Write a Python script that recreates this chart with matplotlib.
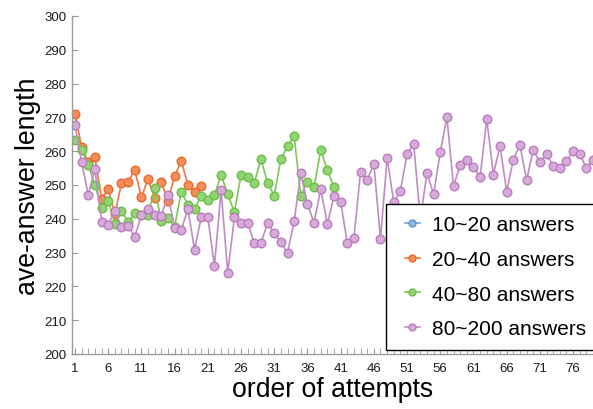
import matplotlib.pyplot as plt
from matplotlib.legend_handler import HandlerLine2D

plt.rcParams['font.family'] = ['Liberation Sans', 'DejaVu Sans']

# average answer length per attempt, one list per group size
len_10_20 = []
len_20_40 = [271.0, 261.2, 256.8, 258.2, 245.9, 248.8, 241.4, 250.5, 251.0, 254.4,
             246.4, 251.8, 246.2, 250.8, 245.4, 252.6, 257.2, 250.0, 248.0, 249.6]
len_40_80 = [263.3, 260.3, 255.9, 250.0, 243.2, 245.3, 238.6, 242.3, 239.0, 241.6,
             241.1, 241.1, 249.0, 239.4, 240.1, 237.7, 248.0, 244.2, 242.8, 246.8,
             245.5, 247.0, 253.0, 247.3, 241.9, 253.0, 252.5, 250.6, 257.7, 250.6,
             246.8, 257.7, 261.4, 264.4, 246.8, 251.0, 249.3, 260.4, 254.4, 249.3]
len_80_200 = [267.8, 256.7, 247.1, 254.7, 239.2, 238.2, 242.4, 237.7, 238.0, 234.7,
              241.1, 242.9, 241.1, 240.8, 247.1, 237.2, 236.7, 242.9, 230.9, 240.4,
              240.4, 226.1, 248.5, 224.0, 240.4, 238.9, 238.9, 232.7, 232.7, 238.8,
              235.7, 233.2, 229.9, 239.3, 253.5, 244.4, 238.8, 248.8, 238.5, 246.7,
              245.1, 232.8, 234.3, 253.9, 251.4, 256.3, 234.0, 258.0, 244.9, 248.3,
              259.2, 262.1, 239.9, 253.6, 247.3, 259.7, 270.0, 249.6, 256.0, 257.4,
              255.4, 252.3, 269.5, 253.1, 261.6, 248.0, 257.5, 261.8, 251.5, 260.4,
              256.7, 259.2, 255.7, 254.9, 257.0, 260.1, 259.2, 255.0, 257.5]

labels = ['10~20 answers', '20~40 answers', '40~80 answers', '80~200 answers']
# (line, marker face, marker edge)
colors = [('#6FA3D6', '#8DBBE6', '#5A93CC'),
          ('#EE7742', '#F58E58', '#EA6A2E'),
          ('#7CC858', '#92D474', '#6CBF45'),
          ('#C08AC4', '#D8AADB', '#B77DBB')]

fig = plt.figure(figsize=(5.93, 4.10), dpi=100)
ax = fig.add_axes([72/593, 55/410, 521/593, 338/410])

for ys, lab, (lc, fc, ec) in zip([len_10_20, len_20_40, len_40_80, len_80_200], labels, colors):
    xs = list(range(1, len(ys) + 1))
    ax.plot(xs, ys, '-o', color=lc, lw=1.2, ms=6.2, mfc=fc, mec=ec, mew=1.0, label=lab)

ax.set_xlim(0.55, 79)
ax.set_ylim(200, 300)
ax.set_xticks(range(1, 79, 5))
ax.set_xticks(range(1, 80), minor=True)
ax.set_yticks(range(200, 301, 10))

for s in ('top', 'right'):
    ax.spines[s].set_visible(False)
for s in ('left', 'bottom'):
    ax.spines[s].set_color('#9a9a9a')
    ax.spines[s].set_linewidth(1.0)

ax.tick_params(axis='both', which='both', direction='in', color='#9a9a9a', labelsize=9.5,
               labelcolor='#1a1a1a')
ax.tick_params(axis='x', which='major', length=4, pad=6)
ax.tick_params(axis='x', which='minor', length=4)
ax.tick_params(axis='y', which='major', length=4, pad=4)

ax.set_xlabel('order of attempts', fontsize=19.2, labelpad=1)
ax.set_ylabel('ave-answer length', fontsize=19.2, labelpad=2)

leg = ax.legend(loc='upper left', bbox_to_anchor=(386/593, 1 - 205/410),
                bbox_transform=fig.transFigure, borderaxespad=0, fontsize=15,
                frameon=True, fancybox=False, edgecolor='black', framealpha=1,
                handlelength=1.09, handletextpad=0.58, labelspacing=0.75,
                borderpad=0.55, markerscale=0.8,
                handler_map={plt.Line2D: HandlerLine2D(xpad=0.35)})
leg.get_frame().set_linewidth(1.0)

fig.savefig('out.png', dpi=100)
